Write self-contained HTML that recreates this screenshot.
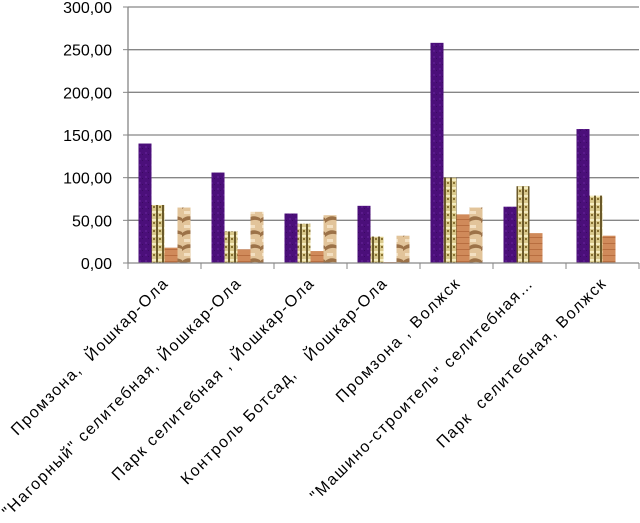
<!DOCTYPE html>
<html><head><meta charset="utf-8"><style>
body{margin:0;background:#fff;}
svg text{font-family:"Liberation Sans","DejaVu Sans",sans-serif;fill:#000;white-space:pre;}
</style></head><body>
<svg id="chart" width="640" height="518" viewBox="0 0 640 518">
<defs>
<pattern id="pPurple" width="6" height="6" patternUnits="userSpaceOnUse"><rect width="6" height="6" fill="#4b0f7a"/><rect x="1" y="2" width="2" height="2" fill="#5a1a8c"/><rect x="4" y="4" width="1" height="1" fill="#3a0a62"/></pattern>
<pattern id="pWeave" width="6" height="8" patternUnits="userSpaceOnUse"><rect width="6" height="8" fill="#d9c98c"/><rect x="0" y="0" width="2" height="8" fill="#6b5a2a"/><rect x="2" y="3" width="4" height="2" fill="#f4ecc0"/><rect x="3" y="6" width="2" height="2" fill="#8a7433"/></pattern>
<pattern id="pWood" width="8" height="6" patternUnits="userSpaceOnUse"><rect width="8" height="6" fill="#d08a5a"/><rect y="3" width="8" height="1" fill="#b86e40"/></pattern>
<pattern id="pSand" width="13" height="14" patternUnits="userSpaceOnUse"><rect width="13" height="14" fill="#e2c49a"/><path d="M0 9 Q6 4 13 8 L13 11 Q6 8 0 13Z" fill="#9c7248"/><rect x="2" y="1" width="6" height="3" fill="#f3e0c2"/></pattern>
</defs>
<g id="grid"></g><g id="bars"></g><g id="axes"></g><g id="labels"></g>
</svg>
<script>
const categories=["Промзона,  Йошкар-Ола","\"Нагорный\" селитебная, Йошкар-Ола","Парк селитебная , Йошкар-Ола","Контроль Ботсад,   Йошкар-Ола","Промзона , Волжск","\"Машино-строитель\" селитебная…","Парк  селитебная, Волжск"];
const series1=[140,106,58,67,258,66,157];
const series2=[68,37,46,31,100,90,79];
const series3=[18,16,14,1,57,35,32];
const series4=[65,60,56,32,65,0,0];
const yTicks=[0,50,100,150,200,250,300];
const yTickLabels=["0,00","50,00","100,00","150,00","200,00","250,00","300,00"];
const fills=["url(#pPurple)","url(#pWeave)","url(#pWood)","url(#pSand)"];
const allSeries=[series1,series2,series3,series4];
const X0=128,X1=639,Y0=263,YT=7,YMAX=300;
const catW=(X1-X0)/categories.length;
const y=v=>Y0-(v/YMAX)*(Y0-YT);
const xCat=i=>X0+i*catW;
const NS="http://www.w3.org/2000/svg";
function mk(tag,attrs,parent){const e=document.createElementNS(NS,tag);for(const k in attrs)e.setAttribute(k,attrs[k]);document.getElementById(parent).appendChild(e);return e;}
yTicks.forEach((t,i)=>{
  if(t>0){const g=mk('line',{x1:X0,x2:X1,y1:y(t),y2:y(t),stroke:'#868686','stroke-width':1.3},'grid');
  
  }
  const tk=mk('line',{x1:X0-5,x2:X0,y1:y(t),y2:y(t),stroke:'#868686'},'axes');
  
  
  const tx=mk('text',{x:112,y:y(t)+6,'text-anchor':'end','font-size':16},'labels');
  tx.textContent=yTickLabels[i];
  
  
});
const bw=13,off=(catW-4*bw)/2;
categories.forEach((c,i)=>{
  allSeries.forEach((s,j)=>{
    if(s[i]<=0)return;
    const r=mk('rect',{x:xCat(i)+off+j*bw,y:y(s[i]),width:bw,height:Y0-y(s[i]),fill:fills[j]},'bars');
    
    
  });
  const cx=xCat(i)+catW/2+5;
  const t=mk('text',{x:cx,y:284,'text-anchor':'end','font-size':16,'letter-spacing':1.6,transform:`rotate(-45 ${cx} 284)`},'labels');
  t.textContent=c;
  
  
});
for(let i=0;i<=categories.length;i++){
  const t=mk('line',{x1:xCat(i),x2:xCat(i),y1:Y0,y2:Y0+6,stroke:'#868686'},'axes');
  
  
}
const ya=mk('line',{x1:X0,x2:X0,y1:YT,y2:Y0,stroke:'#868686','stroke-width':1.3},'axes');


const xa=mk('line',{x1:X0,x2:X1,y1:Y0,y2:Y0,stroke:'#868686','stroke-width':1.3},'axes');


</script>
</body></html>
